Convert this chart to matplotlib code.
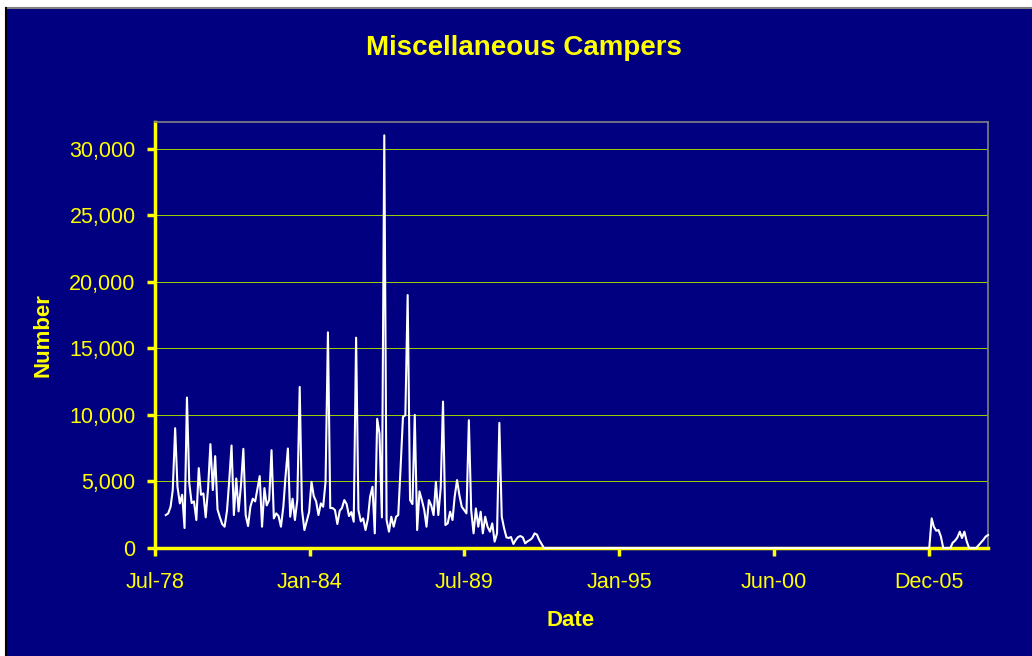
import matplotlib
matplotlib.use('Agg')
import matplotlib.pyplot as plt
from matplotlib.lines import Line2D
from matplotlib.patches import Rectangle
from matplotlib.ticker import FuncFormatter
import pandas as pd

# monthly counts, Dec-78 to Feb-08
early_values = [
    2475, 2600, 3100, 4350, 9000, 4600, 3350, 4000, 1500, 11300,
    4875, 3375, 3500, 2100, 6000, 4000, 4100, 2300, 4500, 7800,
    4350, 6900, 2900, 2300, 1800, 1600, 2800, 5000, 7700, 2475,
    5225, 2750, 4725, 7450, 2475, 1650, 3100, 3700, 3500, 4400,
    5400, 1600, 4500, 3200, 3600, 7350, 2225, 2600, 2400, 1600,
    3100, 5350, 7475, 2350, 3700, 2100, 3600, 12100, 2850, 1350,
    2000, 2700, 4975, 3900, 3500, 2475, 3350, 3100, 4975, 16200,
    3000, 3000, 2850, 1800, 2800, 3000, 3600, 3300, 2400, 2700,
    1975, 15800, 2850, 2000, 2225, 1350, 2200, 3850, 4600, 1100,
    9700, 8600, 2300, 31000, 2100, 1225, 2350, 1600, 2350, 2475,
    6100, 9850, 9975, 19000, 3600, 3300, 10000, 1350, 4250, 3600,
    2850, 1600, 3600, 3200, 2475, 4975, 2475, 4500, 11000, 1725,
    1850, 2725, 2100, 3850, 5100, 3975, 3100, 2850, 2600, 9600,
    2850, 1100, 2975, 1600, 2725, 1100, 2350, 1600, 1225, 1850,
    475, 1100, 9400, 2350, 1500, 800, 750, 825, 300, 600,
    825, 900, 800, 350, 500, 600, 750, 1100, 1000, 600,
    300,
]
gap_values = [
    0, 0, 0, 0, 0, 0, 0, 0, 0, 0, 0, 0, 0, 0, 0,
    0, 0, 0, 0, 0, 0, 0, 0, 0, 0, 0, 0, 0, 0, 0,
    0, 0, 0, 0, 0, 0, 0, 0, 0, 0, 0, 0, 0, 0, 0,
    0, 0, 0, 0, 0, 0, 0, 0, 0, 0, 0, 0, 0, 0, 0,
    0, 0, 0, 0, 0, 0, 0, 0, 0, 0, 0, 0, 0, 0, 0,
    0, 0, 0, 0, 0, 0, 0, 0, 0, 0, 0, 0, 0, 0, 0,
    0, 0, 0, 0, 0, 0, 0, 0, 0, 0, 0, 0, 0, 0, 0,
    0, 0, 0, 0, 0, 0, 0, 0, 0, 0, 0, 0, 0, 0, 0,
    0, 0, 0, 0, 0, 0, 0, 0, 0, 0, 0, 0, 0, 0, 0,
    0, 0, 0, 0, 0, 0, 0, 0, 0, 0, 0, 0, 0, 0, 0,
    0, 0, 0, 0, 0, 0, 0, 0, 0, 0, 0, 0, 0, 0, 0,
]
late_values = [
    2225, 1600, 1300, 1350, 850, 0, 0, 0, 0, 400,
    550, 800, 1225, 750, 1225, 500, 0, 0, 0, 0,
    200, 400, 600, 850, 975,
]

values = early_values + gap_values + late_values
dates = pd.date_range('1978-12-01', periods=len(values), freq='MS')

tick_dates = pd.date_range('1978-07-14', periods=6, freq='2005D')
tick_labels = ['Jul-78', 'Jan-84', 'Jul-89', 'Jan-95', 'Jun-00', 'Dec-05']

navy = '#000080'
yellow = '#FFFF00'

plt.rcParams['font.family'] = ['Liberation Sans', 'DejaVu Sans']

fig = plt.figure(figsize=(10.32, 6.56), dpi=100)
fig.patch.set_facecolor('white')
fig.patches.append(Rectangle((6 / 1032, 0), 1, 1 - 8 / 656, transform=fig.transFigure,
                             facecolor=navy, edgecolor='none', zorder=-10))
fig.lines.append(Line2D([6 / 1032, 1], [1 - 8 / 656, 1 - 8 / 656], transform=fig.transFigure,
                        color='#808080', lw=1.5, zorder=-5))
fig.lines.append(Line2D([6 / 1032, 6 / 1032], [0, 1 - 8 / 656], transform=fig.transFigure,
                        color='black', lw=1.5, zorder=-5))

ax = fig.add_axes([155 / 1032, 1 - 548 / 656, (988 - 155) / 1032, (548 - 122) / 656])
ax.set_facecolor(navy)
ax.set_axisbelow(True)

ax.plot(dates, values, color='white', lw=1.5, zorder=3, clip_on=False)

ax.set_ylim(0, 32000)
ax.set_yticks(range(0, 30001, 5000))
ax.yaxis.set_major_formatter(FuncFormatter(lambda v, p: f'{int(v):,}'))
ax.set_xlim(pd.Timestamp('1978-07-14'), dates[-1])
ax.set_xticks(tick_dates)
ax.set_xticklabels(tick_labels)

ax.grid(axis='y', color='#99CC00', lw=0.6, antialiased=False)
for s in ['left', 'bottom']:
    ax.spines[s].set_color(yellow)
    ax.spines[s].set_linewidth(2.5)
for s in ['top', 'right']:
    ax.spines[s].set_color('#808080')
    ax.spines[s].set_linewidth(1.2)

ax.tick_params(axis='both', colors=yellow, labelsize=15.5, width=2.5, length=6, direction='out')
ax.tick_params(axis='y', pad=8)
ax.tick_params(axis='x', pad=11)

fig.text(524 / 1032, 1 - 48 / 656, 'Miscellaneous Campers', color=yellow, fontsize=20,
         fontweight='bold', ha='center', va='center')
fig.text(43 / 1032, 1 - 335 / 656, 'Number', color=yellow, fontsize=16, fontweight='bold',
         rotation=90, ha='center', va='center')
fig.text(571 / 1032, 1 - 620 / 656, 'Date', color=yellow, fontsize=16, fontweight='bold',
         ha='center', va='center')

plt.savefig('out.png', dpi=100, facecolor=fig.get_facecolor())
